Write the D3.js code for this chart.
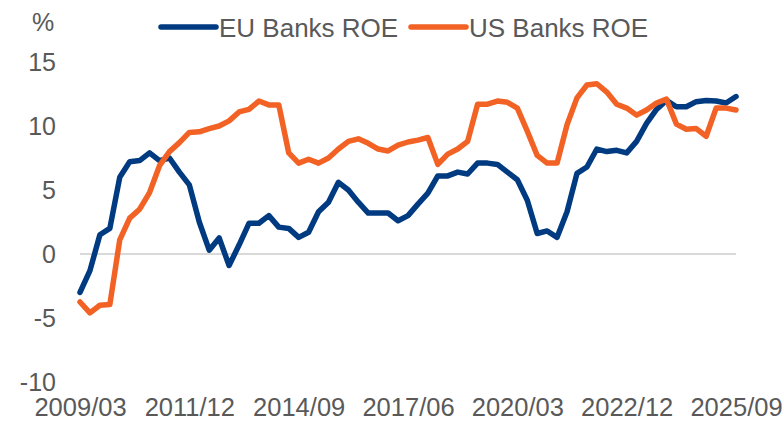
<!DOCTYPE html>
<html>
<head>
<meta charset="utf-8">
<script src="https://cdn.jsdelivr.net/npm/d3@7"></script>
<style>
  html, body { margin: 0; padding: 0; background: #fff; }
  svg { display: block; }
  text { font-family: "Liberation Sans", Arial, sans-serif; fill: #595959; }
</style>
</head>
<body>
<svg id="chart" width="784" height="426"></svg>
<script>
// Quarterly periods, 2009/03 through 2025/09
const quarters = [
  "2009/03","2009/06","2009/09","2009/12",
  "2010/03","2010/06","2010/09","2010/12",
  "2011/03","2011/06","2011/09","2011/12",
  "2012/03","2012/06","2012/09","2012/12",
  "2013/03","2013/06","2013/09","2013/12",
  "2014/03","2014/06","2014/09","2014/12",
  "2015/03","2015/06","2015/09","2015/12",
  "2016/03","2016/06","2016/09","2016/12",
  "2017/03","2017/06","2017/09","2017/12",
  "2018/03","2018/06","2018/09","2018/12",
  "2019/03","2019/06","2019/09","2019/12",
  "2020/03","2020/06","2020/09","2020/12",
  "2021/03","2021/06","2021/09","2021/12",
  "2022/03","2022/06","2022/09","2022/12",
  "2023/03","2023/06","2023/09","2023/12",
  "2024/03","2024/06","2024/09","2024/12",
  "2025/03","2025/06","2025/09"
];

// Return on equity, %
const euRoe = [
  -3.0, -1.3, 1.5, 2.0, 6.0, 7.2, 7.3, 7.9, 7.3, 7.5,
  6.4, 5.4, 2.5, 0.3, 1.25, -0.9, 0.7, 2.4, 2.4, 3.0,
  2.1, 2.0, 1.3, 1.7, 3.3, 4.05, 5.6, 5.0, 4.05, 3.2,
  3.2, 3.2, 2.6, 3.0, 3.9, 4.75, 6.1, 6.1, 6.4, 6.25,
  7.1, 7.1, 7.0, 6.4, 5.8, 4.2, 1.6, 1.8, 1.3, 3.3,
  6.3, 6.8, 8.2, 8.0, 8.1, 7.9, 8.8, 10.2, 11.3, 12.0,
  11.5, 11.5, 11.9, 12.0, 11.95, 11.8, 12.3
];

const usRoe = [
  -3.75, -4.6, -4.0, -3.95, 1.1, 2.8, 3.5, 4.8, 6.9, 8.0,
  8.7, 9.5, 9.55, 9.8, 10.0, 10.4, 11.1, 11.3, 11.95, 11.65,
  11.65, 7.9, 7.1, 7.4, 7.1, 7.5, 8.2, 8.8, 9.0, 8.65,
  8.2, 8.05, 8.5, 8.75, 8.9, 9.1, 7.0, 7.8, 8.2, 8.8,
  11.7, 11.7, 11.95, 11.85, 11.4, 9.6, 7.7, 7.1, 7.1, 10.1,
  12.2, 13.2, 13.3, 12.65, 11.7, 11.4, 10.85, 11.25, 11.8, 12.1,
  10.15, 9.75, 9.8, 9.2, 11.4, 11.4, 11.25
];

const yTicks = [-10, -5, 0, 5, 10, 15];
const xTickLabels = ["2009/03", "2011/12", "2014/09", "2017/06", "2020/03", "2022/12", "2025/09"];

const seriesNames = ["EU Banks ROE", "US Banks ROE"];
const seriesColors = ["#003A80", "#F26224"];

const svg = d3.select("#chart");

const x = d3.scalePoint().domain(quarters).range([80, 736]);
const y = d3.scaleLinear().domain([-10, 15]).range([382, 62]);

// Zero reference line
svg.append("line")
  .attr("x1", x(quarters[0])).attr("x2", x(quarters[quarters.length - 1]))
  .attr("y1", y(0)).attr("y2", y(0))
  .attr("stroke", "#D9D9D9").attr("stroke-width", 2);

// Y axis labels (plain hyphen for negatives)
const yAxis = d3.axisLeft(y).tickValues(yTicks).tickSize(0).tickPadding(0)
  .tickFormat(d => String(d));
const gy = svg.append("g").attr("transform", "translate(56,0)").call(yAxis);
gy.select(".domain").remove();
gy.selectAll("text")
  .attr("fill", "#595959")
  .style("font-size", "25px")
  .style("font-family", "'Liberation Sans', Arial, sans-serif");

// X axis labels
const xAxis = d3.axisBottom(x).tickValues(xTickLabels).tickSize(0).tickPadding(0);
const gx = svg.append("g").attr("transform", "translate(0,398)").call(xAxis);
gx.select(".domain").remove();
gx.selectAll("text")
  .attr("fill", "#595959")
  .style("font-size", "25.5px")
  .style("font-family", "'Liberation Sans', Arial, sans-serif");

// Unit label
svg.append("text")
  .attr("x", 43).attr("y", 31)
  .attr("text-anchor", "middle")
  .style("font-size", "25px")
  .text("%");

// Series lines
const line = d3.line()
  .x((d, i) => x(quarters[i]))
  .y(d => y(d));

[euRoe, usRoe].forEach((vals, k) => {
  svg.append("path")
    .datum(vals)
    .attr("d", line)
    .attr("fill", "none")
    .attr("stroke", seriesColors[k])
    .attr("stroke-width", 5.5)
    .attr("stroke-linejoin", "round")
    .attr("stroke-linecap", "round");
});

// Legend
const legendX = [161, 411];
seriesNames.forEach((name, k) => {
  const g = svg.append("g").attr("transform", `translate(${legendX[k]},27)`);
  g.append("line")
    .attr("x1", 0).attr("x2", 55).attr("y1", 0).attr("y2", 0)
    .attr("stroke", seriesColors[k])
    .attr("stroke-width", 5.5)
    .attr("stroke-linecap", "round");
  g.append("text")
    .attr("x", 58).attr("y", 9.5)
    .style("font-size", "26px")
    .text(name);
});
</script>
</body>
</html>
